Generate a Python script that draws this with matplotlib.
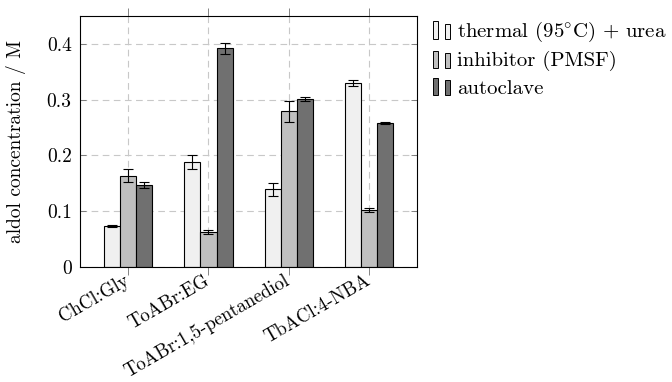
import numpy as np
import matplotlib
matplotlib.use('Agg')
import matplotlib.pyplot as plt
from matplotlib.patches import Rectangle
from matplotlib.legend_handler import HandlerBase

# --- 数据 ---
solvents = ['ChCl:Gly', 'ToABr:EG', 'ToABr:1,5-pentanediol', 'TbACl:4-NBA']
series_names = [r'thermal (95$\!^\circ\!$C) + urea', 'inhibitor (PMSF)', 'autoclave']
thermal = [0.073, 0.188, 0.139, 0.330]
thermal_err = [0.002, 0.013, 0.011, 0.005]
inhibitor = [0.164, 0.063, 0.279, 0.102]
inhibitor_err = [0.011, 0.003, 0.019, 0.003]
autoclave = [0.147, 0.392, 0.301, 0.258]
autoclave_err = [0.005, 0.0095, 0.004, 0.002]

colors = ['#f0f0f0', '#bfbfbf', '#707070']

plt.rcParams['font.family'] = ['cmr10', 'DejaVu Serif']
plt.rcParams['mathtext.fontset'] = 'cm'
plt.rcParams['axes.formatter.use_mathtext'] = True
plt.rcParams['font.size'] = 14


# pgfplots 风格的图例图标（两个小柱）
class TwoBarHandler(HandlerBase):
    def create_artists(self, legend, orig_handle, xdescent, ydescent,
                       width, height, fontsize, trans):
        fc = orig_handle.get_facecolor()
        w = width * 0.28
        r1 = Rectangle((-xdescent, -ydescent), w, height, facecolor=fc,
                       edgecolor='black', lw=0.7, transform=trans)
        r2 = Rectangle((-xdescent + width * 0.66, -ydescent), w, height * 0.88,
                       facecolor=fc, edgecolor='black', lw=0.7, transform=trans)
        return [r1, r2]


fig = plt.figure(figsize=(6.72, 3.82), dpi=100)
ax = fig.add_axes([0.119, 0.301, 0.502, 0.658])

x = np.arange(len(solvents))
bw = 0.2
data = [(thermal, thermal_err), (inhibitor, inhibitor_err), (autoclave, autoclave_err)]
handles = []
for i, (vals, errs) in enumerate(data):
    bars = ax.bar(x + (i - 1) * bw, vals, bw, color=colors[i], edgecolor='black',
                  linewidth=0.8, yerr=errs, capsize=3.5,
                  error_kw=dict(elinewidth=0.8, capthick=0.8, ecolor='black'),
                  zorder=3, label=series_names[i])
    handles.append(bars.patches[0])

ax.set_xlim(-0.6, 3.6)
ax.set_ylim(0, 0.4506)
ax.set_xticks(x)
ax.set_xticklabels(solvents, rotation=30, ha='right', va='center',
                   rotation_mode='anchor', fontsize=13.5)
ax.set_yticks([0, 0.1, 0.2, 0.3, 0.4])
ax.set_yticklabels(['0', '0.1', '0.2', '0.3', '0.4'])
ax.set_ylabel('aldol concentration / M', labelpad=15)

ax.grid(True, linestyle=(0, (6, 4)), color='#c8c8c8', linewidth=0.8, zorder=0)
ax.tick_params(axis='x', direction='out', length=6, width=0.6, color='#707070',
               top=True, bottom=True, pad=3)
ax.tick_params(axis='y', direction='in', length=4, width=0.6, color='#707070',
               left=True, right=True, pad=6)
for s in ax.spines.values():
    s.set_linewidth(0.8)
    s.set_zorder(4)

ax.legend(handles, series_names, handler_map={Rectangle: TwoBarHandler()},
          loc='upper left', bbox_to_anchor=(1.021, 1.015), frameon=False,
          fontsize=15, handlelength=0.9, handleheight=0.9, handletextpad=0.25,
          labelspacing=0.3, borderaxespad=0)

fig.savefig('out.png', dpi=100)
